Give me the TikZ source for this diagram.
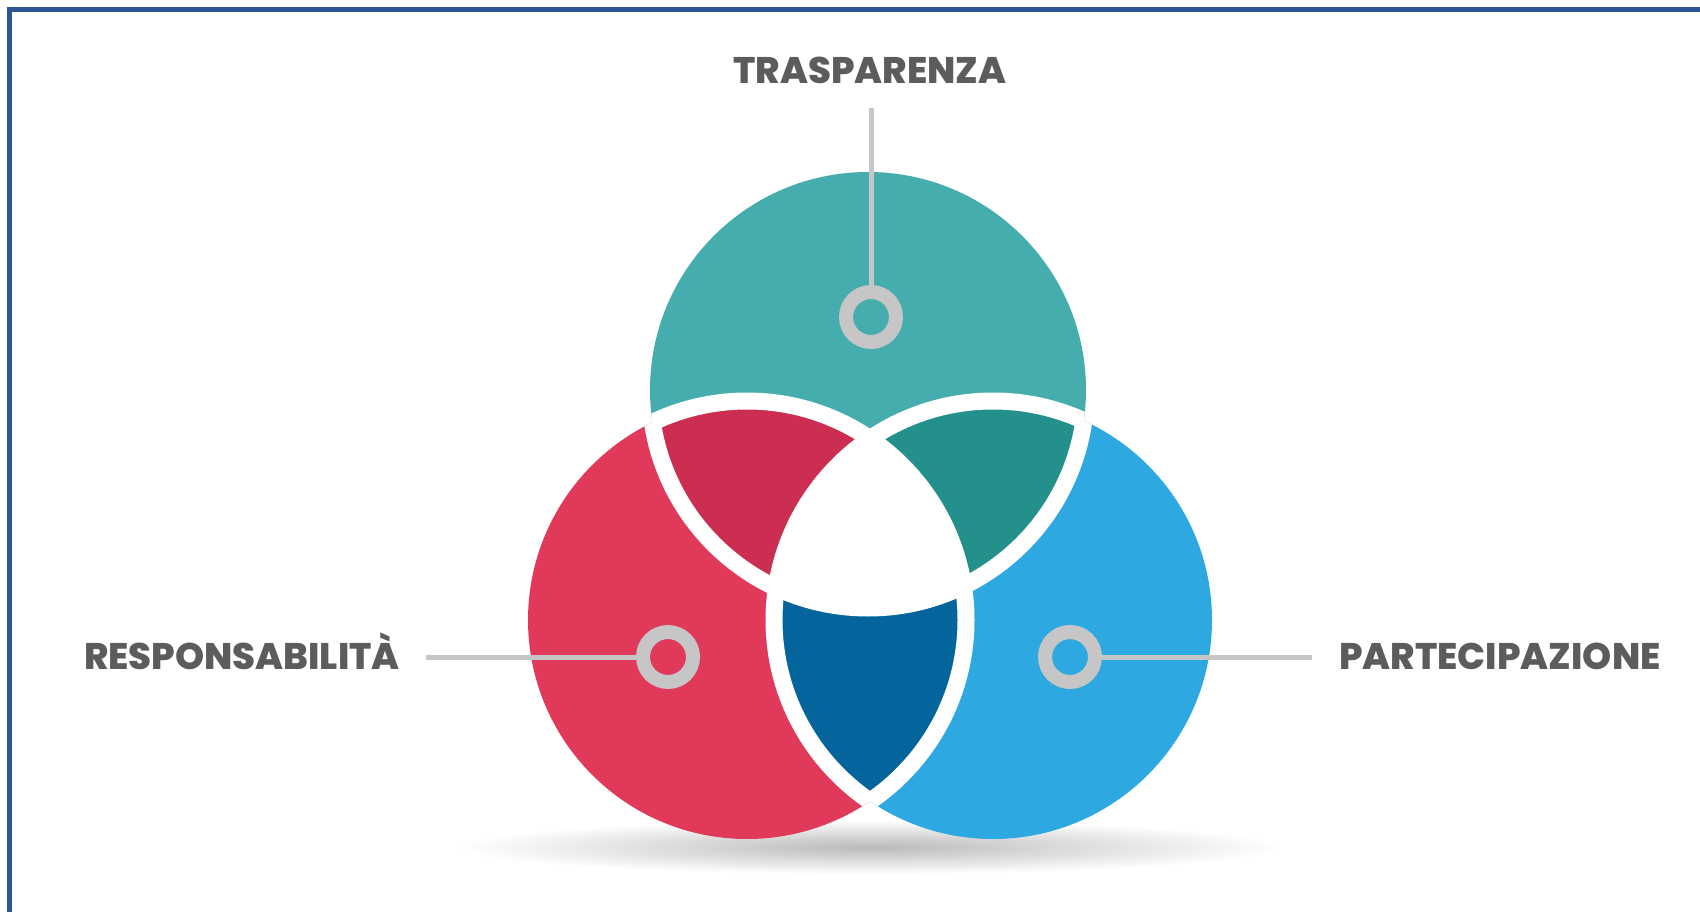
\documentclass[tikz,border=0pt]{standalone}
\usepackage{fontspec}
\IfFontExistsTF{Poppins ExtraBold}
    {\newfontfamily\labelfont{Poppins ExtraBold}}
    {\newfontfamily\labelfont{Poppins}[UprightFont=*-Bold]}
\definecolor{framecol}{HTML}{2F5597}
\definecolor{tealcol}{HTML}{45ADAE}
\definecolor{redcol}{HTML}{E13959}
\definecolor{bluecol}{HTML}{2EA8E0}
\definecolor{crimsoncol}{HTML}{CB2E50}
\definecolor{deeptealcol}{HTML}{23908B}
\definecolor{navycol}{HTML}{03659C}
\definecolor{ringgray}{HTML}{C6C6C6}
\definecolor{labelgray}{HTML}{5C5C5C}

\begin{document}
\begin{tikzpicture}[x=1pt,y=-1pt,
    wire/.style={draw=ringgray,line width=5pt},
    gap/.style={draw=white,line width=17pt}]
\useasboundingbox (0,0) rectangle (1700,912);
\shade[inner color=black!27,outer color=white] (870,847) ellipse [x radius=412pt,y radius=27pt];

\coordinate (cT) at (868,390);
\coordinate (cR) at (747,620);
\coordinate (cP) at (993,620);
\fill[redcol]  (cR) circle[radius=219pt];
\fill[bluecol] (cP) circle[radius=219pt];
\fill[tealcol] (cT) circle[radius=218pt];
\begin{scope}
    \clip (cT) circle[radius=218pt];
    \fill[deeptealcol] (cP) circle[radius=219pt];
\end{scope}
\begin{scope}
    \clip (cR) circle[radius=219pt];
    \fill[crimsoncol] (cT) circle[radius=218pt];
    \fill[navycol] (cP) circle[radius=219pt];
    \clip (cT) circle[radius=218pt];
    \fill[white] (cP) circle[radius=219pt];
\end{scope}
% white gaps, only inside the other circles
\begin{scope}
    \clip (cT) circle[radius=218pt] (cP) circle[radius=219pt];
    \draw[gap] (cR) circle[radius=219pt];
\end{scope}
\begin{scope}
    \clip (cR) circle[radius=219pt] (cP) circle[radius=219pt];
    \draw[gap] (cT) circle[radius=218pt];
\end{scope}
\begin{scope}
    \clip (cR) circle[radius=219pt] (cT) circle[radius=218pt];
    \draw[gap] (cP) circle[radius=219pt];
\end{scope}

\begin{scope}[every node/.style={font=\labelfont\fontsize{37pt}{37pt}\selectfont,
                                 text=labelgray,inner sep=0pt,anchor=base}]
    \node (labT) at (870,84)  {TRASPARENZA};
    \node (labR) at (242,669) {RESPONSABILITÀ};
    \node (labP) at (1500,669) {PARTECIPAZIONE};
\end{scope}
\begin{scope}[every node/.style={circle,draw=ringgray,line width=14pt,
                                 minimum size=50pt,inner sep=0pt}]
    \node (ringT) at (871,317) {};
    \node (ringR) at (668,657) {};
    \node (ringP) at (1070,657) {};
\end{scope}
\coordinate (endT) at (871,108);
\coordinate (endR) at (426,657);
\coordinate (endP) at (1312,657);
\draw[wire] (endT) -- (ringT);
\draw[wire] (endR) -- (ringR);
\draw[wire] (ringP) -- (endP);

\draw[framecol,line width=5pt] (9.5,912) -- (9.5,9.5) -- (1700,9.5);
\end{tikzpicture}
\end{document}
